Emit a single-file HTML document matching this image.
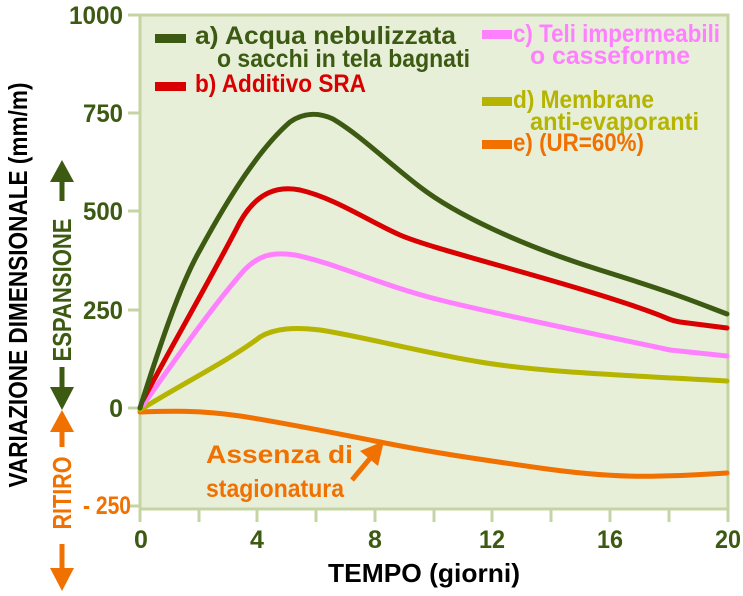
<!DOCTYPE html>
<html><head><meta charset="utf-8"><style>
html,body{margin:0;padding:0;background:#fff;width:743px;height:596px;overflow:hidden}
svg{display:block}
text{font-family:"Liberation Sans",sans-serif;font-weight:bold}
</style></head><body>
<svg width="743" height="596" viewBox="0 0 743 596" xmlns="http://www.w3.org/2000/svg">
<rect x="140" y="15" width="588" height="494" fill="#e7efd9"/>
<g stroke="#c6d4a4" stroke-width="3" fill="none">
<polyline points="140,15 728,15 728,509 140,509 140,15"/>
<line x1="128" y1="15" x2="140" y2="15"/><line x1="128" y1="113" x2="140" y2="113"/>
<line x1="128" y1="211" x2="140" y2="211"/><line x1="128" y1="310" x2="140" y2="310"/>
<line x1="128" y1="408" x2="140" y2="408"/><line x1="128" y1="506" x2="140" y2="506"/>
<line x1="140" y1="509" x2="140" y2="522"/><line x1="199" y1="509" x2="199" y2="522"/>
<line x1="257" y1="509" x2="257" y2="522"/><line x1="316" y1="509" x2="316" y2="522"/>
<line x1="375" y1="509" x2="375" y2="522"/><line x1="434" y1="509" x2="434" y2="522"/>
<line x1="492" y1="509" x2="492" y2="522"/><line x1="551" y1="509" x2="551" y2="522"/>
<line x1="610" y1="509" x2="610" y2="522"/><line x1="669" y1="509" x2="669" y2="522"/>
<line x1="728" y1="509" x2="728" y2="522"/>
</g>
<g fill="none" stroke-width="5" stroke-linecap="round" stroke-linejoin="round">
<path stroke="#f07000" d="M140,412 C170,411 200,410 240,416 S330,432 380,442 S470,458 540,468 S650,478 727,473"/>
<path stroke="#b5b400" d="M140,410 C180,385 230,360 260,337 C275,328 295,327 320,330 C360,336 420,352 480,362 S620,375 727,381"/>
<path stroke="#ff80ff" d="M143,405 C175,360 210,310 240,275 C258,253 275,252 295,255 C335,263 380,285 440,300 S600,335 670,350 L727,356"/>
<path stroke="#d80000" d="M143,400 C175,340 210,280 240,222 C258,190 280,186 300,190 C335,198 370,222 400,235 S520,270 600,295 S660,318 680,322 L727,328"/>
<path stroke="#3d5a12" d="M140,408 C160,345 180,285 200,250 C230,195 260,148 290,122 C303,113 318,112 333,119 C360,135 385,160 420,187 S520,245 600,270 S690,300 727,314"/>
</g>
<g font-size="25">
<rect x="155" y="34" width="31" height="9" fill="#3d5a12"/>
<text x="195" y="44" fill="#3d5a12" textLength="261" lengthAdjust="spacingAndGlyphs">a) Acqua nebulizzata</text>
<text x="217" y="67" fill="#3d5a12" textLength="253" lengthAdjust="spacingAndGlyphs">o sacchi in tela bagnati</text>
<rect x="155" y="82" width="31" height="9" fill="#d80000"/>
<text x="195" y="92" fill="#d80000" textLength="171" lengthAdjust="spacingAndGlyphs">b) Additivo SRA</text>
<rect x="482" y="30" width="30" height="9" fill="#ff80ff"/>
<text x="513" y="42" fill="#ff80ff" textLength="207" lengthAdjust="spacingAndGlyphs">c) Teli impermeabili</text>
<text x="530" y="64" fill="#ff80ff" textLength="160" lengthAdjust="spacingAndGlyphs">o casseforme</text>
<rect x="482" y="97" width="30" height="9" fill="#b5b400"/>
<text x="513" y="108" fill="#b5b400" textLength="141" lengthAdjust="spacingAndGlyphs">d) Membrane</text>
<text x="530" y="130" fill="#b5b400" textLength="169" lengthAdjust="spacingAndGlyphs">anti-evaporanti</text>
<rect x="482" y="140" width="30" height="9" fill="#f07000"/>
<text x="513" y="151" fill="#f07000" textLength="131" lengthAdjust="spacingAndGlyphs">e) (UR=60%)</text>
<text x="206" y="463" fill="#f07000" textLength="147" lengthAdjust="spacingAndGlyphs">Assenza di</text>
<text x="206" y="497" fill="#f07000" textLength="138" lengthAdjust="spacingAndGlyphs">stagionatura</text>
</g>
<line x1="352" y1="480" x2="372" y2="456" stroke="#f07000" stroke-width="5"/>
<polygon points="384,441 360,451 378,466" fill="#f07000"/>
<g font-size="25" fill="#3d5a12" text-anchor="end">
<text x="123" y="24" textLength="54" lengthAdjust="spacingAndGlyphs">1000</text>
<text x="123" y="122" textLength="40" lengthAdjust="spacingAndGlyphs">750</text>
<text x="123" y="220" textLength="40" lengthAdjust="spacingAndGlyphs">500</text>
<text x="123" y="319" textLength="40" lengthAdjust="spacingAndGlyphs">250</text>
<text x="123" y="417">0</text>
<text x="131" y="514" fill="#f07000" textLength="48" lengthAdjust="spacingAndGlyphs">- 250</text>
</g>
<g font-size="25" fill="#3d5a12" text-anchor="middle">
<text x="141" y="548">0</text><text x="257" y="548">4</text><text x="375" y="548">8</text>
<text x="492" y="548" textLength="26" lengthAdjust="spacingAndGlyphs">12</text>
<text x="610" y="548" textLength="26" lengthAdjust="spacingAndGlyphs">16</text>
<text x="728" y="548" textLength="26" lengthAdjust="spacingAndGlyphs">20</text>
</g>
<text x="424" y="582" font-size="26" fill="#000" text-anchor="middle" textLength="192" lengthAdjust="spacingAndGlyphs">TEMPO (giorni)</text>
<text transform="translate(27,285) rotate(-90)" font-size="26" fill="#000" text-anchor="middle" textLength="405" lengthAdjust="spacingAndGlyphs">VARIAZIONE DIMENSIONALE (mm/m)</text>
<text transform="translate(71,290) rotate(-90)" font-size="26" fill="#3d5a12" text-anchor="middle" textLength="143" lengthAdjust="spacingAndGlyphs">ESPANSIONE</text>
<text transform="translate(71,493) rotate(-90)" font-size="26" fill="#f07000" text-anchor="middle" textLength="73" lengthAdjust="spacingAndGlyphs">RITIRO</text>
<g stroke-width="5">
<line x1="62" y1="201" x2="62" y2="176" stroke="#3d5a12"/>
<line x1="62" y1="367" x2="62" y2="392" stroke="#3d5a12"/>
<line x1="62" y1="447" x2="62" y2="425" stroke="#f07000"/>
<line x1="62" y1="544" x2="62" y2="572" stroke="#f07000"/>
</g>
<polygon points="62,160 50,182 74,182" fill="#3d5a12"/>
<polygon points="62,410 50,387 74,387" fill="#3d5a12"/>
<polygon points="62,410 50,432 74,432" fill="#f07000"/>
<polygon points="62,591 50,568 74,568" fill="#f07000"/>
</svg>
</body></html>
